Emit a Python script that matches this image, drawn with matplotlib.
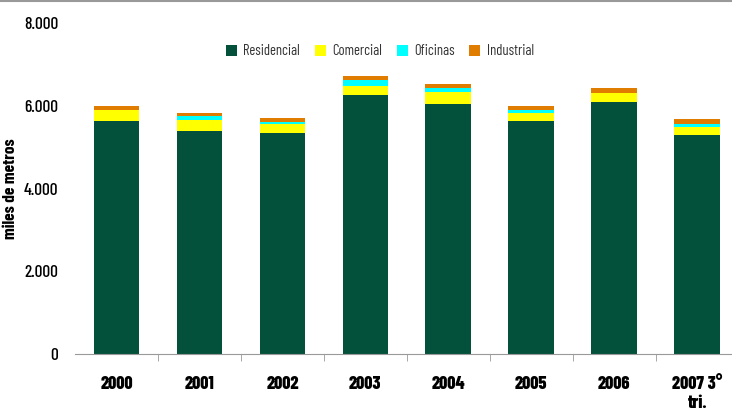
import matplotlib.pyplot as plt
import numpy as np
from matplotlib.lines import Line2D

# Datos (miles de metros)
anios = ['2000', '2001', '2002', '2003', '2004', '2005', '2006', '2007 3°\ntri.']
residencial = [5640, 5400, 5350, 6270, 6050, 5640, 6100, 5300]
comercial = [265, 265, 217, 217, 290, 193, 217, 193]
oficinas = [0, 80, 32, 145, 80, 72, 0, 72]
industrial = [96, 90, 113, 96, 113, 96, 120, 120]

colores = ['#03513A', '#FFFF00', '#00FFFF', '#E07C00']
nombres = ['Residencial', 'Comercial', 'Oficinas', 'Industrial']
series = [residencial, comercial, oficinas, industrial]

plt.rcParams['font.family'] = ['Barlow Condensed', 'DejaVu Sans']

fig = plt.figure(figsize=(7.32, 4.11), dpi=100)
ax = fig.add_axes([0.1025, 0.1387, 0.8975, 0.8053])

x = np.arange(len(anios))
base = np.zeros(len(anios))
for vals, col, nom in zip(series, colores, nombres):
    ax.bar(x, vals, bottom=base, width=0.55, color=col, label=nom)
    base = base + np.array(vals)

ax.set_ylim(0, 8000)
ax.set_xlim(-0.5, 7.42)
ax.set_yticks([0, 2000, 4000, 6000, 8000])
ax.set_yticklabels(['0', '2.000', '4.000', '6.000', '8.000'], fontsize=12.5, fontweight=500)
ax.tick_params(axis='y', length=0, pad=12)

ax.set_xticks(x)
ax.set_xticklabels(anios, fontsize=13, fontweight=800, va='top', linespacing=1.2)
ax.set_xticks(np.arange(0.5, 7.5, 1.0), minor=True)
ax.tick_params(axis='x', which='major', length=0, pad=16)
ax.tick_params(axis='x', which='minor', length=5, color='#999999', direction='out')

for s in ['top', 'right', 'left']:
    ax.spines[s].set_visible(False)
ax.spines['bottom'].set_color('#999999')

ax.set_ylabel('miles de metros', fontsize=12.5, fontweight=700)
ax.yaxis.set_label_coords(-0.087, 0.5)

leg = ax.legend(loc='upper center', bbox_to_anchor=(0.464, 0.975), ncol=4, frameon=False,
                fontsize=10.5, handlelength=0.75, handleheight=0.75, handletextpad=0.45,
                columnspacing=1.0)
for t in leg.get_texts():
    t.set_color('#333333')

# línea gris superior
fig.add_artist(Line2D([0, 1], [0.997, 0.997], color='#999999', lw=1.5))

plt.savefig('out.png', dpi=100)
